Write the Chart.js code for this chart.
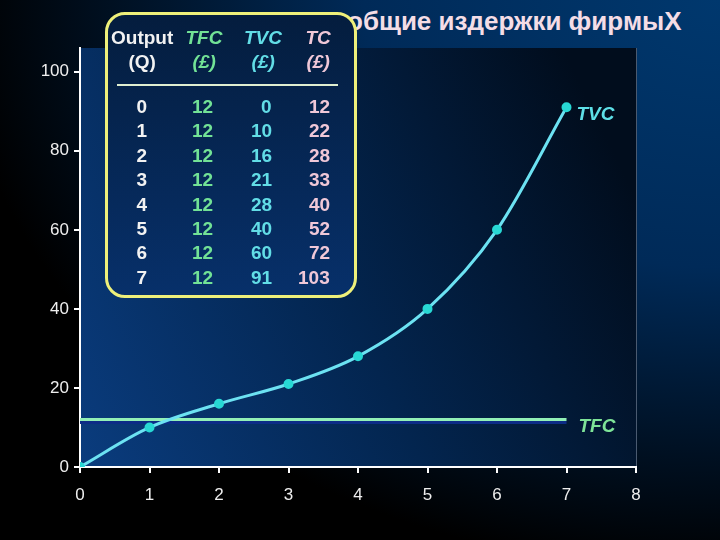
<!DOCTYPE html>
<html>
<head>
<meta charset="utf-8">
<script src="https://cdn.jsdelivr.net/npm/chart.js@4"></script>
<style>
  html, body { margin: 0; padding: 0; }
  body {
    width: 720px; height: 540px; overflow: hidden; position: relative;
    background: radial-gradient(ellipse at 100% 0%, #00386e 0%, #002a58 35%, #000 75%);
    font-family: "Liberation Sans", Arial, sans-serif;
  }
  #wrap { position: absolute; left: 0; top: 0; width: 720px; height: 540px; }
  #title {
    position: absolute; left: 347px; top: 6px; font-size: 26px; font-weight: bold;
    color: #f4dde6; white-space: nowrap;
  }
  #box {
    position: absolute; left: 105px; top: 12px; width: 246px; height: 280px;
    border: 3px solid #eef07a; border-radius: 20px;
    background: linear-gradient(180deg, #041d3e 0%, #07306a 100%);
  }
  .cell { position: absolute; font-size: 19px; font-weight: bold; line-height: 24px; height: 24px; white-space: nowrap; }
  .it { font-style: italic; }
</style>
</head>
<body>
<div id="title">общие издержки фирмыX</div>
<div id="wrap"><canvas id="chart" width="720" height="540"></canvas></div>
<div id="box"></div>
<div id="cells"></div>
<script>
// table / chart values
const output = [0, 1, 2, 3, 4, 5, 6, 7];
const tfc = [12, 12, 12, 12, 12, 12, 12, 12];
const tvc = [0, 10, 16, 21, 28, 40, 60, 91];
const tc = [12, 22, 28, 33, 40, 52, 72, 103];
const headers = [['Output', 'TFC', 'TVC', 'TC'], ['(Q)', '(£)', '(£)', '(£)']];
const xTicks = [0, 1, 2, 3, 4, 5, 6, 7, 8];
const yTicks = [0, 20, 40, 60, 80, 100];

// table layout (page px)
const colColors = ['#f2f2f2', '#72e296', '#62dde6', '#f0c8d8'];
const headCenter = [142, 204, 263, 318];
const numRight = [null, 213, 272, 330];
const headRows = [38, 62];
const rowTop = 107, rowStep = 24.4;

let cells = document.getElementById('cells');
function addCell(text, color, y, cx, rx, italic) {
    let d = document.createElement('div');
    d.className = 'cell' + (italic ? ' it' : '');
    d.textContent = text;
    d.style.color = color;
    d.style.top = (y - 12) + 'px';
    cells.appendChild(d);
    let w = d.offsetWidth;
    d.style.left = (rx != null ? rx - w : cx - w / 2) + 'px';
}
headers.forEach((row, i) => {
    row.forEach((h, j) => addCell(h, colColors[j], headRows[i], headCenter[j], null, j > 0));
});
let rule = document.createElement('div');
rule.style.cssText = 'position:absolute;left:117px;top:84px;width:221px;height:2px;background:#dfeed0;';
cells.appendChild(rule);
const cols = [output, tfc, tvc, tc];
for (let i = 0; i < output.length; i++) {
    let y = rowTop + i * rowStep;
    cols.forEach((c, j) => addCell(String(c[i]), colColors[j], y, headCenter[j], numRight[j], false));
}

// plot area background + right border + curve labels
const plotBg = {
    id: 'plotBg',
    beforeDraw(chart) {
        const { ctx, chartArea: a } = chart;
        let g = ctx.createLinearGradient(a.left, a.bottom, a.right, a.top + 150);
        g.addColorStop(0, '#0a3c7e');
        g.addColorStop(0.5, '#03254f');
        g.addColorStop(1, '#010d1d');
        ctx.save();
        ctx.fillStyle = g;
        ctx.fillRect(a.left, a.top, a.right - a.left, a.bottom - a.top);
        ctx.strokeStyle = '#4a5a70';
        ctx.lineWidth = 1;
        ctx.beginPath();
        ctx.moveTo(a.right + 0.5, a.top);
        ctx.lineTo(a.right + 0.5, a.bottom);
        ctx.stroke();
        ctx.restore();
    },
    afterDatasetsDraw(chart) {
        const { ctx, scales: { x, y } } = chart;
        ctx.save();
        ctx.font = 'italic bold 19px "Liberation Sans", Arial, sans-serif';
        ctx.textBaseline = 'middle';
        ctx.fillStyle = '#5ee0e8';
        ctx.fillText('TVC', x.getPixelForValue(7) + 10, y.getPixelForValue(tvc[7]) + 7);
        ctx.fillStyle = '#7ee498';
        ctx.fillText('TFC', x.getPixelForValue(7) + 12, y.getPixelForValue(tfc[7]) + 7);
        ctx.restore();
    }
};

const shadow = {
    id: 'shadow',
    beforeDatasetDraw(chart, args) {
        if (args.index === 1) {
            chart.ctx.save();
            chart.ctx.shadowColor = '#0c2c86';
            chart.ctx.shadowOffsetY = 3;
        }
    },
    afterDatasetDraw(chart, args) {
        if (args.index === 1) chart.ctx.restore();
    }
};

new Chart(document.getElementById('chart'), {
    type: 'line',
    data: {
        datasets: [
            {
                label: 'TVC',
                data: output.map((q, i) => ({ x: q, y: tvc[i] })),
                borderColor: '#6ce2f2',
                borderWidth: 3,
                cubicInterpolationMode: 'monotone',
                pointRadius: 3.5,
                pointBackgroundColor: '#28d8d4',
                pointBorderColor: '#28d8d4'
            },
            {
                label: 'TFC',
                data: output.map((q, i) => ({ x: q, y: tfc[i] })),
                borderColor: '#92f0b6',
                borderWidth: 3,
                pointRadius: 0
            }
        ]
    },
    options: {
        responsive: false,
        animation: false,
        layout: { padding: { left: 0, right: 84, top: 48, bottom: 0 } },
        plugins: { legend: { display: false }, tooltip: { enabled: false } },
        scales: {
            x: {
                type: 'linear', min: 0, max: 8,
                afterFit(s) { s.height = 73; },
                afterBuildTicks(s) { s.ticks = xTicks.map(v => ({ value: v })); },
                border: { color: '#ffffff', width: 2 },
                grid: { drawOnChartArea: false, color: '#ffffff', tickLength: 6, lineWidth: 2 },
                ticks: { color: '#eeeeee', padding: 12, font: { size: 17, family: '"Liberation Sans", Arial, sans-serif' } }
            },
            y: {
                type: 'linear', min: 0, max: 106,
                afterFit(s) { s.width = 80; },
                afterBuildTicks(s) { s.ticks = yTicks.map(v => ({ value: v })); },
                border: { color: '#ffffff', width: 2 },
                grid: { drawOnChartArea: false, color: '#ffffff', tickLength: 6, lineWidth: 2 },
                ticks: { color: '#eeeeee', padding: 5, font: { size: 17, family: '"Liberation Sans", Arial, sans-serif' } }
            }
        }
    },
    plugins: [plotBg, shadow]
});
</script>
</body>
</html>
